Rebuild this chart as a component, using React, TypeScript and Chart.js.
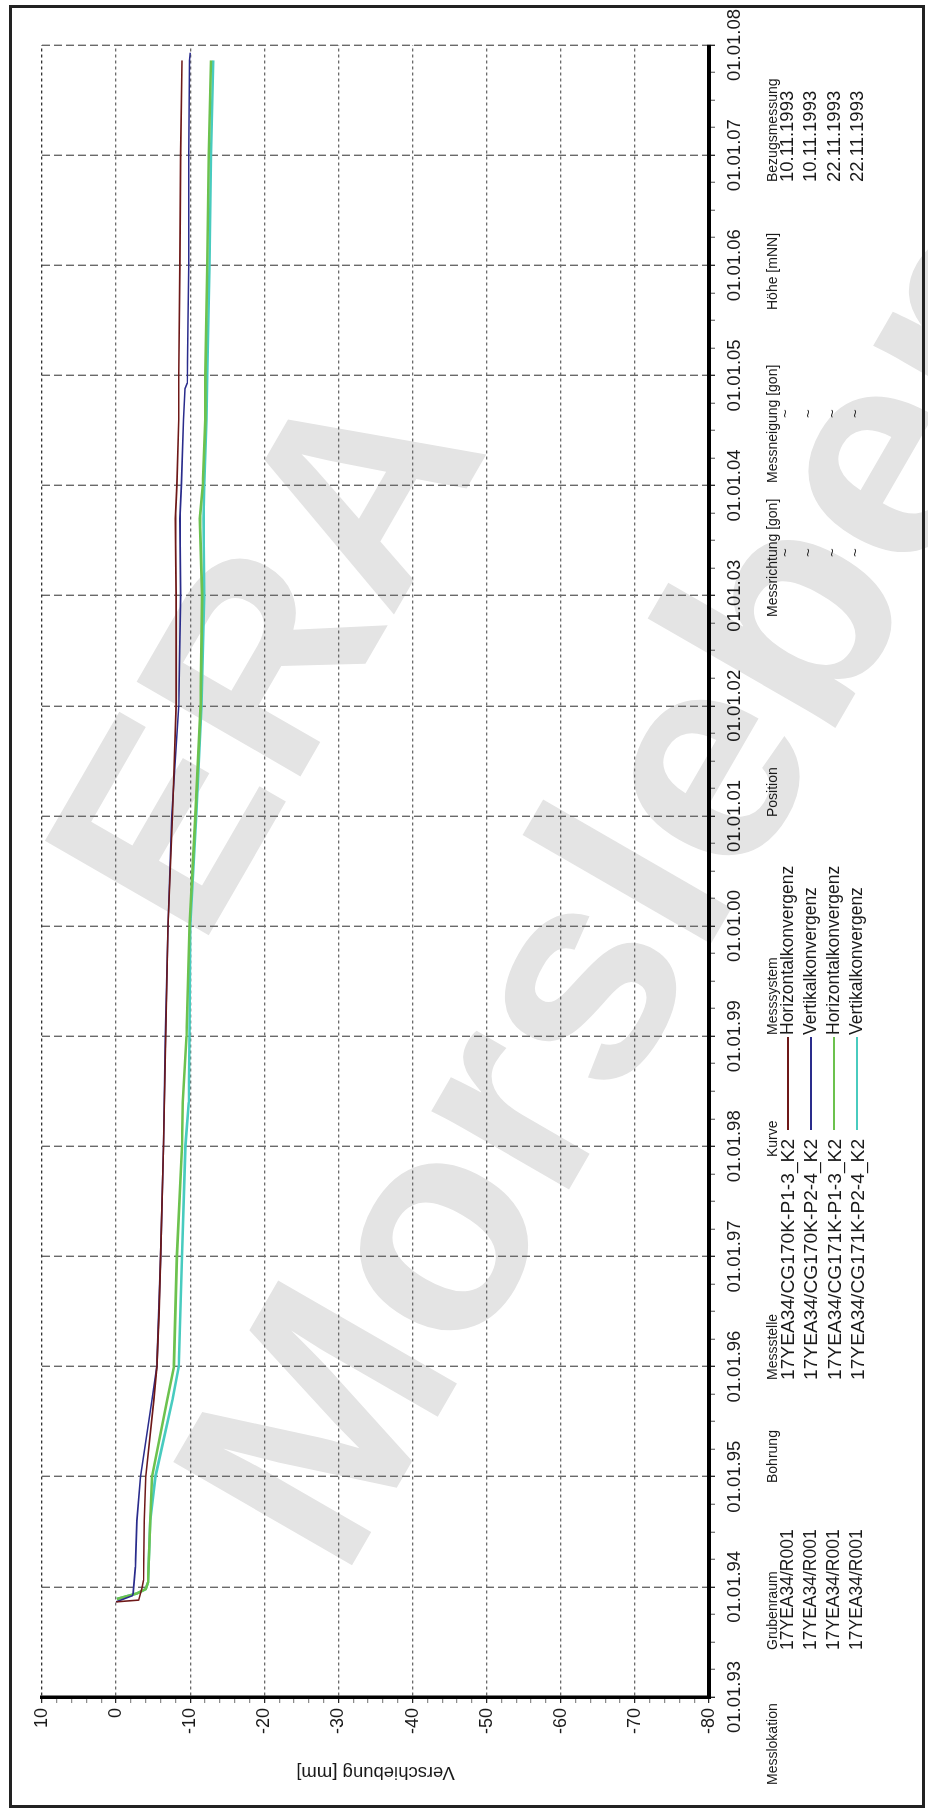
import React, { useEffect, useRef } from 'react';
import { Chart, registerables } from 'chart.js';

Chart.register(...registerables);

// ---------- data ----------
const redYears = [1993.864, 1993.88, 1993.99, 1994.06, 1994.6, 1995.0, 1995.7, 1996.0, 1996.5, 1997.0, 1998.0, 1999.0, 2000.0, 2001.0, 2002.0, 2003.0, 2003.7, 2004.0, 2004.6, 2005.0, 2006.0, 2007.0, 2007.86];
const redValues = [0, -3.05, -3.5, -3.7, -3.8, -4.0, -5.1, -5.5, -5.8, -6.0, -6.4, -6.7, -7.0, -7.6, -8.1, -8.1, -8.0, -8.2, -8.45, -8.45, -8.6, -8.7, -8.9];

const blueYears = [1993.864, 1993.92, 1993.94, 1994.18, 1994.6, 1995.0, 1995.7, 1996.0, 1997.0, 1998.0, 1999.0, 2000.0, 2001.0, 2002.0, 2003.0, 2003.7, 2004.0, 2004.6, 2004.88, 2004.93, 2005.5, 2006.0, 2007.0, 2007.86, 2007.93];
const blueValues = [0, -2.2, -2.3, -2.6, -2.8, -3.3, -4.85, -5.5, -6.0, -6.4, -6.65, -7.0, -7.5, -8.45, -8.7, -8.6, -8.8, -9.1, -9.3, -9.6, -9.7, -9.8, -9.8, -9.9, -10.0];

const greenYears = [1993.89, 1993.94, 1993.98, 1994.04, 1994.6, 1995.0, 1995.7, 1996.0, 1997.0, 1998.0, 1998.4, 1999.0, 2000.0, 2001.0, 2002.0, 2003.0, 2003.7, 2004.0, 2004.6, 2005.0, 2006.0, 2007.0, 2007.86];
const greenValues = [-0.1, -2.8, -4.0, -4.3, -4.6, -4.85, -6.9, -7.8, -8.2, -8.9, -9.0, -9.5, -9.9, -10.7, -11.4, -11.6, -11.3, -11.7, -12.05, -12.05, -12.3, -12.5, -12.8];

const cyanYears = [1993.89, 1993.94, 1993.98, 1994.04, 1994.6, 1995.0, 1995.7, 1996.0, 1997.0, 1998.0, 1998.4, 1999.0, 2000.0, 2001.0, 2002.0, 2003.0, 2003.7, 2004.0, 2004.6, 2005.0, 2006.0, 2007.0, 2007.86];
const cyanValues = [-0.1, -2.8, -4.0, -4.3, -4.6, -5.3, -7.6, -8.45, -8.9, -9.35, -9.8, -9.9, -10.0, -10.8, -11.5, -11.9, -11.8, -11.9, -12.2, -12.3, -12.6, -12.8, -13.1];

const seriesNames = ['17YEA34/CG170K-P1-3_K2', '17YEA34/CG170K-P2-4_K2', '17YEA34/CG171K-P1-3_K2', '17YEA34/CG171K-P2-4_K2'];
const seriesColors = ['#6e1818', '#2a2c8c', '#6cc24e', '#48cbbf'];
const seriesWidths = [1.6, 1.6, 2.6, 2.6];
const grubenraum = ['17YEA34/R001', '17YEA34/R001', '17YEA34/R001', '17YEA34/R001'];
const messsystem = ['Horizontalkonvergenz', 'Vertikalkonvergenz', 'Horizontalkonvergenz', 'Vertikalkonvergenz'];
const bezugsmessung = ['10.11.1993', '10.11.1993', '22.11.1993', '22.11.1993'];

const xMin = 1993, xMax = 2008;
const yMin = -80, yMax = 10;
const yAxisTitle = 'Verschiebung [mm]';

// ---------- layout (unrotated chart coordinates) ----------
const W = 1812, H = 928;
const FONT = '"Liberation Sans", Arial, Helvetica, sans-serif';
const PLOT_LEFT = 115, PLOT_TOP = 42, PLOT_BOTTOM = 709, PLOT_RIGHT = 1769;

const pts = (xs: number[], ys: number[]) => xs.map((x, i) => ({ x, y: ys[i] }));

const headerItems: [string, number][] = [
  ['Messlokation', 27], ['Grubenraum', 162], ['Bohrung', 329], ['Messstelle', 432], ['Kurve', 655],
  ['Messsystem', 777], ['Position', 995], ['Messrichtung [gon]', 1195], ['Messneigung [gon]', 1329],
  ['Höhe [mNN]', 1502], ['Bezugsmessung', 1630],
];
const HEADER_Y = 771.5;
const ROW_Y = [787.5, 810.5, 834, 857];

function Txt({ x, y, size, children }: { x: number; y: number; size: number; children: React.ReactNode }) {
  return (
    <div style={{ position: 'absolute', left: x, top: y - 0.49 * size, fontSize: size, lineHeight: `${size}px`, fontFamily: FONT, color: '#1a1a1a', whiteSpace: 'nowrap' }}>{children}</div>
  );
}

function Watermark({ cx, cy, size, angle, text }: { cx: number; cy: number; size: number; angle: number; text: string }) {
  return (
    <div style={{ position: 'absolute', left: cx, top: cy, transform: `translate(-50%, -50%) rotate(${angle}deg)`, fontFamily: FONT, fontWeight: 700, fontSize: size, lineHeight: 1, color: '#e4e4e4', whiteSpace: 'nowrap' }}>{text}</div>
  );
}

export default function App() {
  const ref = useRef<HTMLCanvasElement | null>(null);
  useEffect(() => {
    if (!ref.current) return;
    const datasets = [
      pts(redYears, redValues), pts(blueYears, blueValues), pts(greenYears, greenValues), pts(cyanYears, cyanValues),
    ].map((d, i) => ({
      label: seriesNames[i], data: d, borderColor: seriesColors[i], backgroundColor: seriesColors[i],
      borderWidth: seriesWidths[i], pointRadius: 0, tension: 0, fill: false,
    }));
    const chart = new Chart(ref.current, {
      type: 'line',
      data: { datasets },
      options: {
        animation: false, responsive: false, maintainAspectRatio: false,
        layout: { padding: { left: 0, right: W - PLOT_RIGHT, top: PLOT_TOP, bottom: 0 } },
        plugins: { legend: { display: false }, tooltip: { enabled: false } },
        scales: {
          x: {
            type: 'linear', min: xMin, max: xMax,
            ticks: {
              stepSize: 0.25, autoSkip: false, maxRotation: 0, minRotation: 0, padding: 9,
              color: '#1a1a1a', font: { family: FONT, size: 18.5 },
              callback: (v: any) => Number.isInteger(v) ? '01.01.' + String(v % 100).padStart(2, '0') : '',
            },
            grid: {
              color: (c: any) => Number.isInteger(c.tick?.value) ? '#6a6a6a' : 'rgba(0,0,0,0)',
              lineWidth: 1.4, tickLength: 6, tickWidth: 1.3,
              tickColor: (c: any) => Number.isInteger(c.tick?.value) ? '#222' : '#777',
            },
            border: { display: true, color: '#000', width: 4, dash: [8, 4] },
            afterFit: (s: any) => { s.height = H - PLOT_BOTTOM; },
          },
          y: {
            type: 'linear', min: yMin, max: yMax,
            ticks: {
              stepSize: 2, autoSkip: false, padding: 5, color: '#1a1a1a', font: { family: FONT, size: 18 },
              callback: (v: any) => (Math.round(v) % 10 === 0 ? String(v) : ''),
            },
            grid: {
              color: (c: any) => (Math.round(c.tick?.value) % 10 === 0 ? (c.tick.value === yMax ? '#333' : '#6a6a6a') : 'rgba(0,0,0,0)'),
              lineWidth: 1.3, tickLength: 6, tickWidth: 1.2,
              tickColor: (c: any) => (Math.round(c.tick?.value) % 10 === 0 ? '#222' : '#888'),
            },
            border: { display: true, color: '#000', width: 3.5, dash: [3, 3] },
            title: { display: true, text: yAxisTitle, color: '#1a1a1a', font: { family: FONT, size: 18.5 }, padding: { top: 29, bottom: 0 } },
            afterFit: (s: any) => { s.width = PLOT_LEFT; },
          },
        },
      } as any,
    });
    return () => chart.destroy();
  }, []);

  return (
    <div style={{ position: 'fixed', left: 0, top: 0, width: 928, height: 1812, overflow: 'hidden', background: '#fff' }}>
      <div style={{ position: 'absolute', left: 0, top: 0, width: W, height: H, transformOrigin: '0 0', transform: `translate(0px, ${W}px) rotate(-90deg)`, background: '#fff', overflow: 'hidden' }}>
        <Watermark cx={1160} cy={262} size={275} angle={30} text="ERA" />
        <Watermark cx={931} cy={627} size={300} angle={30} text="Morsleben" />
        <div style={{ position: 'absolute', left: 4, top: 9, width: W - 4 - 5 - 6, height: H - 9 - 3 - 6, border: '3px solid #222' }} />
        <canvas ref={ref} width={W} height={H} style={{ position: 'absolute', left: 0, top: 0, width: W, height: H }} />
        {headerItems.map(([t, x]) => <Txt key={t} x={x} y={HEADER_Y} size={14}>{t}</Txt>)}
        {ROW_Y.map((y, i) => (
          <React.Fragment key={i}>
            <Txt x={162} y={y} size={17.5}>{grubenraum[i]}</Txt>
            <Txt x={432} y={y} size={19.2}>{seriesNames[i]}</Txt>
            <div style={{ position: 'absolute', left: 682, top: y - 1, width: 93, height: 2, background: seriesColors[i] }} />
            <Txt x={777} y={y} size={17.5}>{messsystem[i]}</Txt>
            <Txt x={1255} y={y - 3} size={15}>~</Txt>
            <Txt x={1394} y={y - 3} size={15}>~</Txt>
            <Txt x={1630} y={y} size={18.5}>{bezugsmessung[i]}</Txt>
          </React.Fragment>
        ))}
      </div>
    </div>
  );
}
